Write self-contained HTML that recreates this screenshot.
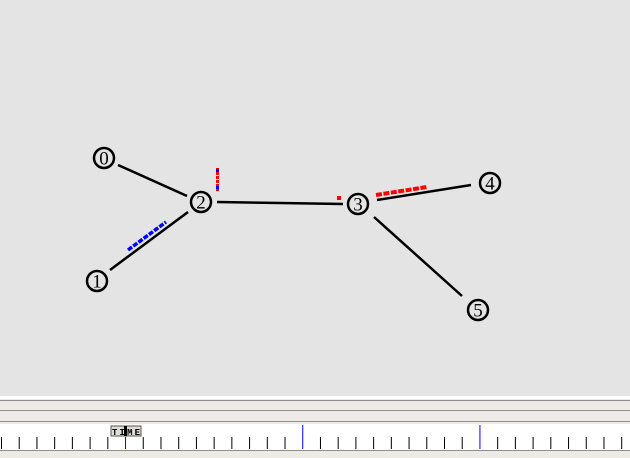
<!DOCTYPE html>
<html><head><meta charset="utf-8"><style>
html,body{margin:0;padding:0;background:#e4e4e4;}
svg{display:block;font-family:"Liberation Serif",serif;}
</style></head><body>
<svg width="630" height="458" viewBox="0 0 630 458">
<rect x="0" y="0" width="630" height="396" fill="#e4e4e4"/>
<g id="links" stroke="#000" stroke-width="2.5" fill="none">
 <line x1="118" y1="165" x2="187" y2="196"/>
 <line x1="110" y1="270" x2="188" y2="212"/>
 <polyline points="217,202 280,203 343,204"/>
 <line x1="377" y1="200" x2="471" y2="185"/>
 <line x1="374" y1="217" x2="462" y2="296"/>
</g>
<g>
 <line x1="128" y1="250" x2="166" y2="222" stroke="#0000ff" stroke-width="3.5" stroke-dasharray="5,1.5"/>
 <line x1="217.5" y1="168" x2="217.5" y2="192" stroke="#ff0000" stroke-width="3" stroke-dasharray="3,1"/>
 <rect x="216" y="169" width="3" height="3" fill="#0000ff"/>
 <rect x="216" y="186" width="3" height="3" fill="#0000ff"/>
 <rect x="337" y="196" width="4" height="4" fill="#ff0000"/>
 <line x1="376" y1="195" x2="427" y2="187" stroke="#ff0000" stroke-width="4" stroke-dasharray="6,1.5"/>
</g>
<g id="nodes"></g>
<rect x="0" y="396" width="630" height="3" fill="#ffffff"/>
<rect x="0" y="399" width="630" height="59" fill="#eeebe6"/>
<line x1="0" y1="400.5" x2="630" y2="400.5" stroke="#8f8f8f"/>
<line x1="0" y1="410.5" x2="630" y2="410.5" stroke="#8f8f8f"/>
<line x1="0" y1="421.5" x2="630" y2="421.5" stroke="#8f8f8f"/>
<rect x="0" y="424" width="630" height="26" fill="#ffffff"/>
<line x1="0" y1="450.5" x2="630" y2="450.5" stroke="#8f8f8f"/>
<g id="ticks"></g>
<g>
 <rect x="111" y="426" width="30" height="10" fill="#e0ddd6" stroke="#555" stroke-width="1"/>
 <text x="112" y="435" font-family="Liberation Mono,monospace" font-size="9" font-weight="bold" fill="#000" textLength="28">TIME</text>
 <rect x="124" y="426" width="3" height="10" fill="#000"/>
</g>
</svg>
<script>
const nodeIds=["0","1","2","3","4","5"];
const nodeX=[104,97,201,358,490,478];
const nodeY=[158,281,202,204,183,310];
const tickCount=36;
const NS="http://www.w3.org/2000/svg";
const ng=document.getElementById('nodes');
nodeIds.forEach((id,i)=>{
 const g=document.createElementNS(NS,'g');
 
 
 const c=document.createElementNS(NS,'circle');
 c.setAttribute('cx',nodeX[i]);c.setAttribute('cy',nodeY[i]);c.setAttribute('r',10);
 c.setAttribute('fill','#e4e4e4');c.setAttribute('stroke','#000');c.setAttribute('stroke-width','2.5');
 g.appendChild(c);
 const t=document.createElementNS(NS,'text');
 t.setAttribute('x',nodeX[i]);t.setAttribute('y',nodeY[i]+6.5);
 t.setAttribute('text-anchor','middle');t.setAttribute('font-size','19');
 t.textContent=id;
 g.appendChild(t);
 ng.appendChild(g);
});
const tg=document.getElementById('ticks');
for(let i=0;i<tickCount;i++){
 const x=1.5+i*17.72;
 const tall=(i===17||i===27);
 const blue=(i===7||tall);
 const l=document.createElementNS(NS,'line');
 
 
 l.setAttribute('x1',x);l.setAttribute('x2',x);
 l.setAttribute('y1',tall?425:437);
 l.setAttribute('y2',449);
 l.setAttribute('stroke',blue?'#0000ff':'#000');
 l.setAttribute('stroke-width','1');
 tg.appendChild(l);
}
</script>
</body></html>
